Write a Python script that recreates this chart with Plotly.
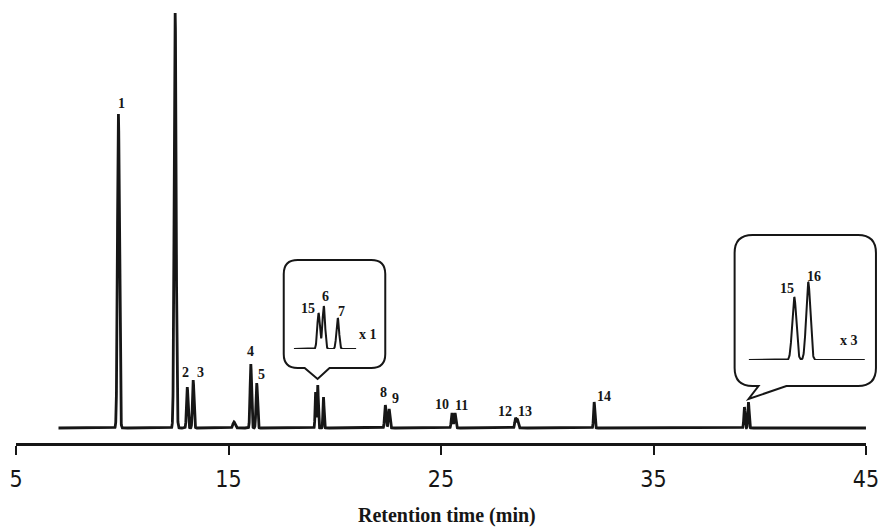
import numpy as np
import plotly.graph_objects as go

# ---- data ----
peak_times = [9.82, 12.49, 13.06, 13.34, 15.26, 16.05, 16.33, 19.10, 19.20, 19.47,
              22.38, 22.56, 25.52, 25.66, 28.51, 28.60, 32.21, 39.28, 39.47]
peak_heights = [314, 415, 41, 48, 6, 64, 45, 36, 43, 31,
                23, 19, 15, 15, 10, 8, 26, 21, 26]
peak_widths = [0.045, 0.045, 0.035, 0.035, 0.05, 0.035, 0.035, 0.025, 0.025, 0.025,
               0.035, 0.035, 0.035, 0.035, 0.035, 0.035, 0.03, 0.028, 0.028]
run_start, run_end = 7.0, 45.0

tick_vals = [5, 15, 25, 35, 45]
tick_text = ["5", "15", "25", "35", "45"]

main_labels = ["1", "2", "3", "4", "5", "8", "9", "10", "11", "12", "13", "14"]
main_label_px = [(122, 103), (186, 372), (201, 372), (252, 351), (263, 374),
                 (385, 392), (397, 398), (444, 404), (464, 405), (507, 411),
                 (527, 411), (607, 396)]
inset1_labels = ["15", "6", "7", "x 1"]
inset1_label_px = [(309, 308), (327, 296), (343, 311), (370, 334)]
inset2_labels = ["15", "16", "x 3"]
inset2_label_px = [(791, 288), (818, 276), (853, 340)]

inset1_range = [18.62, 19.83]   # x 1
inset2_range = [38.66, 40.24]   # x 3

# ---- geometry helpers ----
W, H = 884, 530
ML, MR, MT, MB = 16, 14, 5, 87
PW, PH = W - ML - MR, H - MT - MB


def px2x(px):
    return (px - ML) / PW


def py2y(py):
    return (H - MB - py) / PH


t = np.arange(run_start, run_end + 1e-9, 0.003)
signal = np.zeros_like(t)
for c, h, s in zip(peak_times, peak_heights, peak_widths):
    signal += h * np.exp(-((t - c) ** 2) / (2 * s * s))

ink = "#161616"
fig = go.Figure()
fig.add_trace(go.Scatter(x=t, y=signal, mode="lines",
                         line=dict(color=ink, width=2.8), hoverinfo="skip",
                         showlegend=False))

m1 = (t >= inset1_range[0]) & (t <= inset1_range[1])
fig.add_trace(go.Scatter(x=t[m1], y=signal[m1], mode="lines", xaxis="x2", yaxis="y2",
                         line=dict(color=ink, width=2), showlegend=False, hoverinfo="skip"))
m2 = (t >= inset2_range[0]) & (t <= inset2_range[1])
fig.add_trace(go.Scatter(x=t[m2], y=signal[m2], mode="lines", xaxis="x3", yaxis="y3",
                         line=dict(color=ink, width=2), showlegend=False, hoverinfo="skip"))


def callout(left, right, top, bottom, r, pl, pr, tip):
    P = lambda a, b: f"{px2x(a):.5f},{py2y(b):.5f}"
    d = f"M {P(left + r, top)} L {P(right - r, top)} Q {P(right, top)} {P(right, top + r)} "
    d += f"L {P(right, bottom - r)} Q {P(right, bottom)} {P(right - r, bottom)} "
    d += f"L {P(pr, bottom)} L {P(tip[0], tip[1])} L {P(pl, bottom)} "
    d += f"L {P(left + r, bottom)} Q {P(left, bottom)} {P(left, bottom - r)} "
    d += f"L {P(left, top + r)} Q {P(left, top)} {P(left + r, top)} Z"
    return dict(type="path", path=d, xref="paper", yref="paper",
                line=dict(color=ink, width=2), fillcolor="white", layer="below")


shapes = [
    callout(285, 387, 260, 368, 14, 306, 331, (319, 379)),
    callout(738, 880, 235, 386, 18, 762, 790, (752, 399)),
]

ann = []
lab_font = dict(family="Liberation Serif, Times New Roman, serif", size=14, color=ink)
for txt, (x, y) in zip(main_labels + inset1_labels + inset2_labels,
                       main_label_px + inset1_label_px + inset2_label_px):
    ann.append(dict(text=f"<b>{txt}</b>", x=px2x(x), y=py2y(y), xref="paper", yref="paper",
                    showarrow=False, xanchor="center", yanchor="middle", font=lab_font))
ann.append(dict(text="<b>Retention time (min)</b>", x=px2x(449), y=py2y(515),
                xref="paper", yref="paper", showarrow=False, xanchor="center",
                yanchor="middle",
                font=dict(family="Liberation Serif, Times New Roman, serif", size=20, color=ink)))

fig.update_layout(
    width=W, height=H, margin=dict(l=ML, r=MR, t=MT, b=MB),
    paper_bgcolor="white", plot_bgcolor="rgba(0,0,0,0)",
    showlegend=False, shapes=shapes, annotations=ann,
    xaxis=dict(range=[5, 45], showgrid=False, zeroline=False, showline=True,
               linecolor=ink, linewidth=2.5, ticks="outside", ticklen=9, tickwidth=2,
               tickcolor=ink, tickvals=tick_vals, ticktext=tick_text,
               ticklabelstandoff=5,
               tickfont=dict(family="Liberation Sans Narrow, DejaVu Sans Condensed, sans-serif",
                             size=23, color=ink)),
    yaxis=dict(range=[-15, PH - 15], visible=False),
    xaxis2=dict(domain=[px2x(295), px2x(358)], range=inset1_range, anchor="y2",
                visible=False),
    yaxis2=dict(domain=[py2y(349), py2y(289)], range=[0, 60], anchor="x2", visible=False),
    xaxis3=dict(domain=[px2x(752), px2x(869)], range=inset2_range, anchor="y3",
                visible=False),
    yaxis3=dict(domain=[py2y(360), py2y(270)], range=[0, 30], anchor="x3", visible=False),
)

fig.write_html("out.html")
